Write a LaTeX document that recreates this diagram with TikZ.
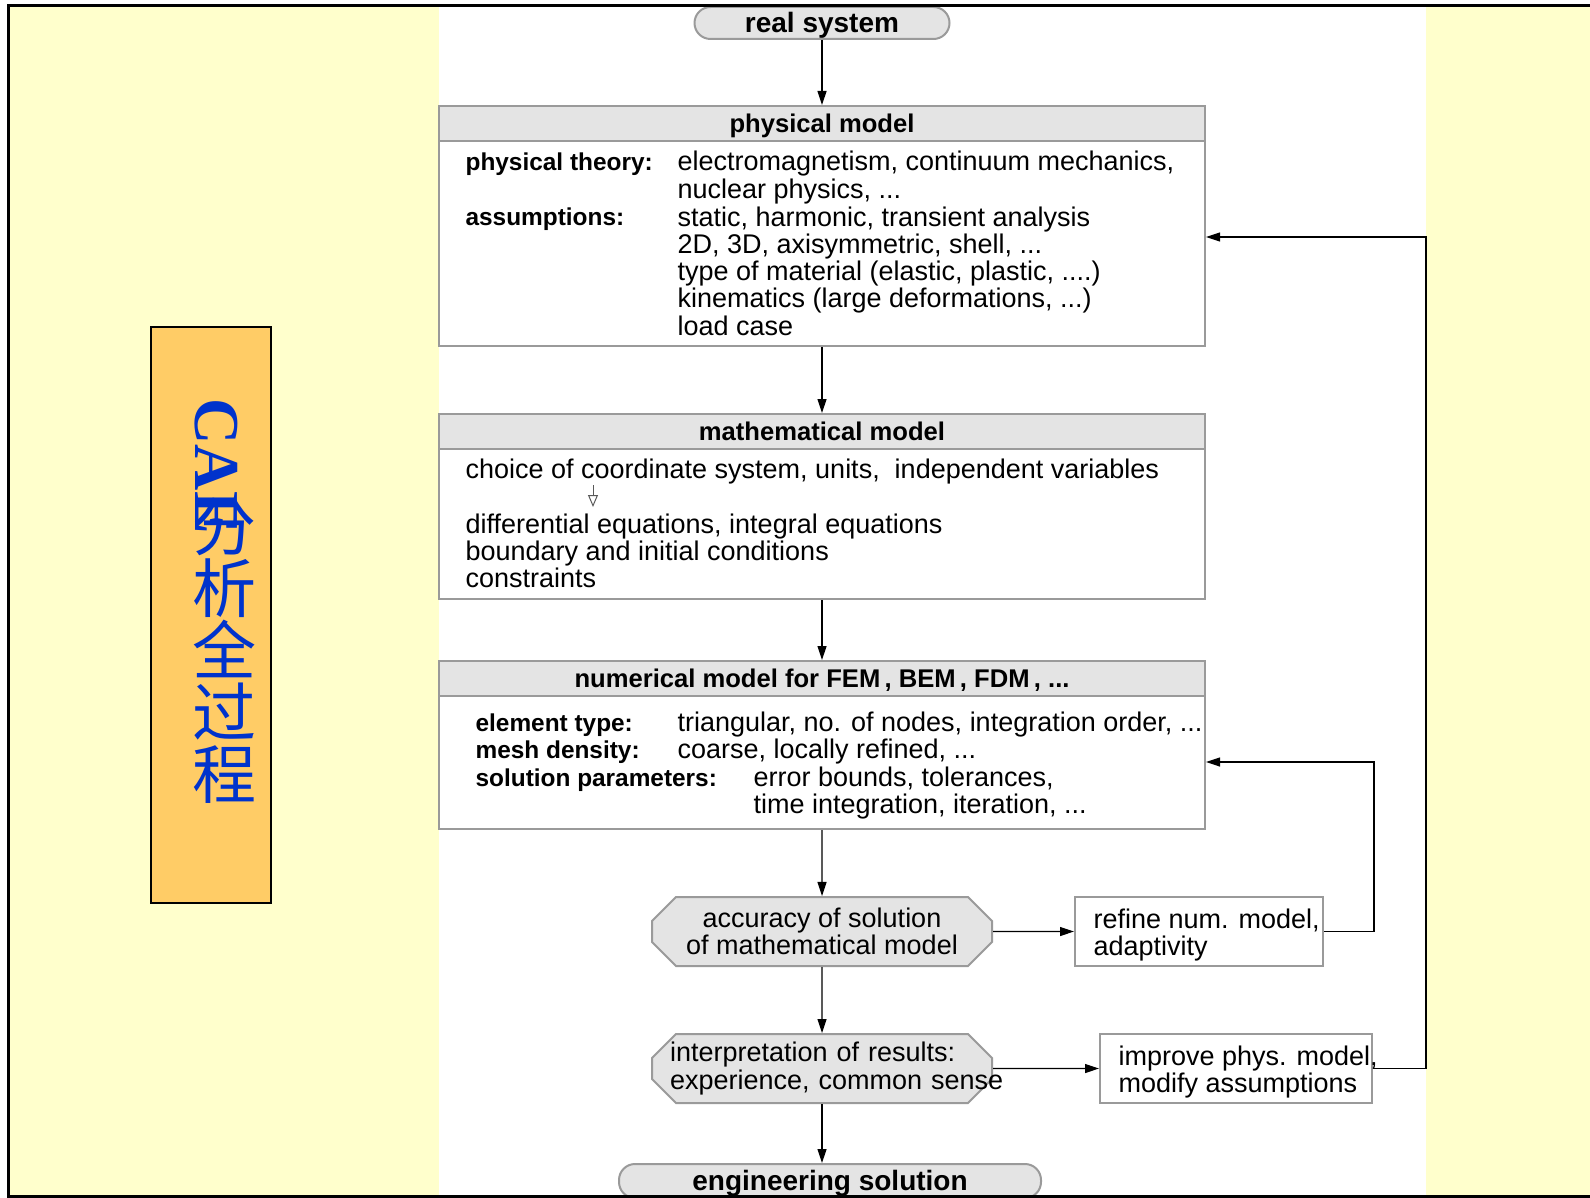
\documentclass[tikz,border=0pt]{standalone}
\usepackage{fontspec}
\setmainfont{Liberation Sans}
\newfontfamily\cjk{Noto Sans CJK SC}
\newfontfamily\caeserif{Liberation Serif}
\usetikzlibrary{arrows.meta, positioning, shapes.misc, calc}
\definecolor{slideyellow}{HTML}{FFFFCC}
\definecolor{tabgold}{HTML}{FFCC66}
\definecolor{caeblue}{HTML}{0033CC}
\definecolor{hdgrey}{HTML}{E4E4E4}
\definecolor{edgegrey}{HTML}{9A9A9A}
\tikzset{
  every picture/.style={line width=0.6pt},
  % multi-line text is anchored at the baseline of its last line
  txt/.style={anchor=base west, align=left, inner sep=0pt, yshift=-1.5pt, font=\fontsize{13.5}{13.65}\selectfont},
  lbl/.style={anchor=base west, inner sep=0pt, yshift=-1.5pt, font=\fontsize{12.2}{13.65}\selectfont\bfseries},
  panel/.style={draw=edgegrey, line width=1pt, fill=white, inner sep=0pt, minimum width=383pt},
  head/.style={draw=edgegrey, line width=1pt, fill=hdgrey, inner sep=0pt, minimum width=383pt, minimum height=17.5pt, text height=11pt, text depth=2pt, font=\fontsize{12.8}{14}\selectfont\bfseries},
  pill/.style={draw=edgegrey, line width=1pt, fill=hdgrey, rounded corners=8pt, inner sep=0pt, text height=11.5pt, text depth=2pt, font=\fontsize{14}{16}\selectfont\bfseries},
  octa/.style={chamfered rectangle, chamfered rectangle xsep=8.5pt, draw=edgegrey, line width=1pt, fill=hdgrey, minimum width=170pt, minimum height=34.5pt, inner sep=0pt, font=\fontsize{13.5}{13.65}\selectfont},
  remedy/.style={draw=edgegrey, line width=1pt, fill=white, minimum height=34.5pt, inner sep=0pt},
  arrow/.style={-{Triangle[length=7pt, width=4.5pt]}, line width=0.6pt},
}

\begin{document}
\begin{tikzpicture}[x=0.5pt, y=-0.5pt]
  \useasboundingbox (0,0) rectangle (1590,1198);
  % slide background
  \fill[slideyellow] (8,6) rectangle (1590,1196);
  \fill[white] (439,7) rectangle (1426,1195);
  % side tab
  \node[draw, line width=1pt, fill=tabgold, minimum width=60pt, minimum height=288pt, inner sep=0pt] (tab) at (211,615) {};
  \node[rotate=-90, anchor=west, inner sep=0pt, text=caeblue, font=\caeserif\bfseries\fontsize{32}{32}\selectfont] (caeLatin) at (216,398) {CAE};
  \node[align=center, inner sep=0pt, text=caeblue, font=\cjk\fontsize{32}{31}\selectfont] (caeHan) at (224,651) {分\\析\\全\\过\\程};

  % main column
  \node[pill, minimum width=127.5pt, minimum height=16pt] (real) at (822,23) {real system};

  \node[panel, minimum height=120pt] (phys) at (822,226) {};
  \node[head, anchor=north] (physHead) at (phys.north) {physical model};
  \node[lbl] (physTheory) at (465,168) {physical theory:};
  \node[txt] (physTheoryList) at (677,195.3) {electromagnetism, continuum mechanics,\\nuclear physics, ...};
  \node[lbl] (physAssum) at (465,223) {assumptions:};
  \node[txt] (physAssumList) at (677,332.2) {static, harmonic, transient analysis\\2D, 3D, axisymmetric, shell, ...\\type of material (elastic, plastic, ....)\\kinematics (large deformations, ...)\\load case};

  \node[panel, minimum height=92.5pt] (math) at (822,506.5) {};
  \node[head, anchor=north] (mathHead) at (math.north) {mathematical model};
  \node[txt] (mathChoice) at (465,475) {choice of coordinate system, units,\ \ independent variables};
  \coordinate (choiceDown) at (593,485);
  \coordinate (eqnUp) at (593,507);
  \draw[-{Triangle[open, length=6pt, width=5pt]}, black!65, line width=0.5pt] (choiceDown) -- (eqnUp);
  \node[txt] (mathEqns) at (465,584.6) {differential equations, integral equations\\boundary and initial conditions\\constraints};

  \node[panel, minimum height=84pt] (num) at (822,745) {};
  \node[head, anchor=north] (numHead) at (num.north) {numerical model for FEM\,, BEM\,, FDM\,, ...};
  \node[lbl] (numElem) at (475,728) {element type:};
  \node[txt] (numElemList) at (677,728) {triangular, no. of nodes, integration order, ...};
  \node[lbl] (numMesh) at (475,755) {mesh density:};
  \node[txt] (numMeshList) at (677,755) {coarse, locally refined, ...};
  \node[lbl] (numSol) at (475,783) {solution parameters:};
  \node[txt] (numSolList) at (753,810.3) {error bounds, tolerances,\\time integration, iteration, ...};

  \node[octa, align=center] (acc) at (822,931.5) {accuracy of solution\\of mathematical model};
  \node[remedy, minimum width=124pt] (refine) at (1199,931.5) {};
  \node[txt] (refineText) at (1093,952.3) {refine num. model,\\adaptivity};

  \node[octa, text width=152pt, align=left] (interp) at (822,1068.5) {\mbox{interpretation of results:}\\\mbox{experience, common sense}};
  \node[remedy, minimum width=136pt] (improve) at (1236,1068.5) {};
  \node[txt] (improveText) at (1118,1089.3) {improve phys. model,\\modify assumptions};

  \node[pill, minimum width=211pt, minimum height=17pt] (eng) at (830,1181) {engineering solution};

  % connectors
  \draw[arrow] (real) -- (phys);
  \draw[arrow] (phys) -- (math);
  \draw[arrow] (math) -- (num);
  \draw[arrow] (num) -- (acc);
  \draw[arrow] (acc) -- (interp);
  \draw[arrow] (interp.south) -- (interp.south |- eng.north);
  \draw[arrow] (acc) -- (refine);
  \draw[arrow] (interp) -- (improve);
  % feedback loops
  \coordinate (numIn) at ($(num.east)+(0,17)$);
  \coordinate (physIn) at ($(phys.east)+(0,11)$);
  \draw[arrow] (refine.east) -- ++(50,0) |- (numIn);
  \draw[arrow] (improve.east) -- ++(53,0) |- (physIn);

  % slide frame
  \draw[line width=1.5pt] (1590,6) -- (8,6) -- (8,1196) -- (1590,1196);
\end{tikzpicture}
\end{document}
